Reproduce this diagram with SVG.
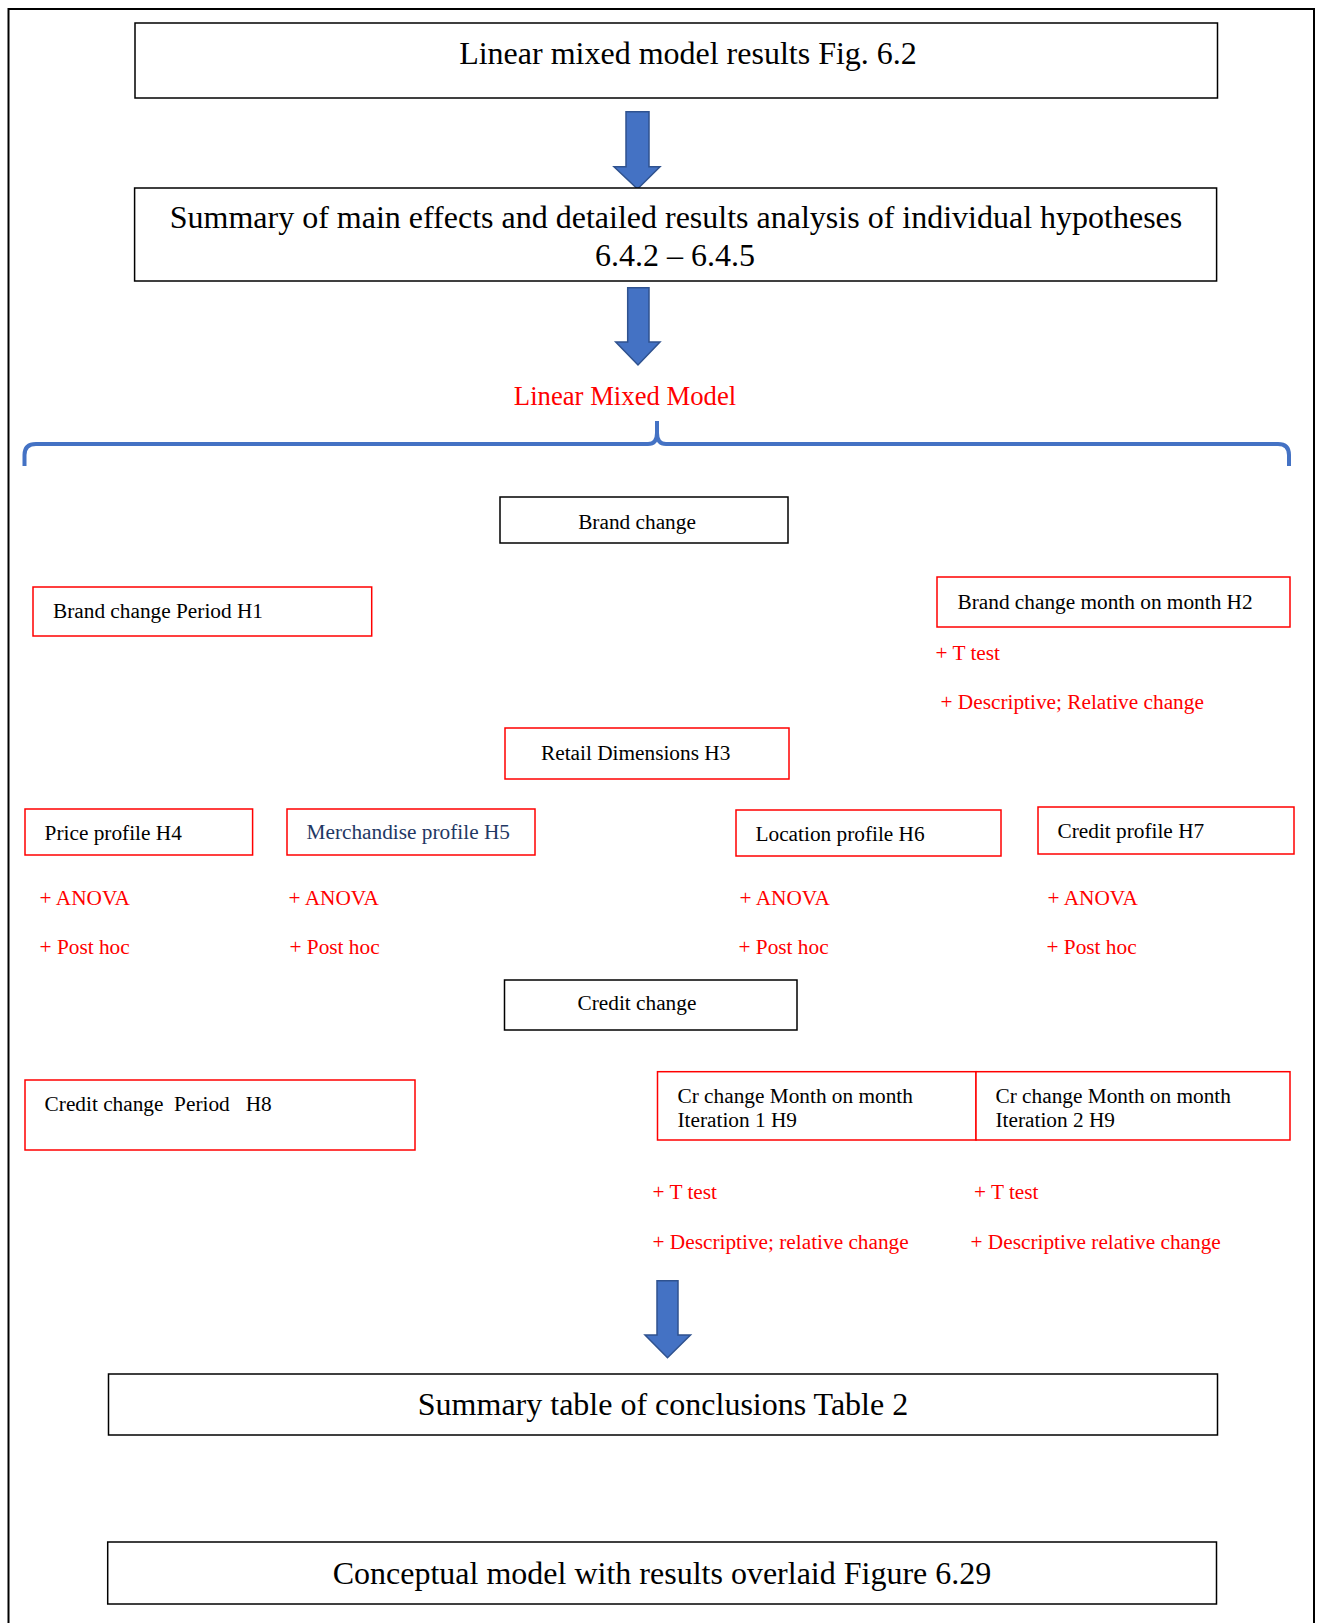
<svg xmlns="http://www.w3.org/2000/svg" width="1318" height="1623" viewBox="0 0 1318 1623">
<style>
text{font-family:"Liberation Serif","Times New Roman",serif;white-space:pre}
.big{font-size:32px;fill:#000}
.sm{font-size:21.3px;fill:#000}
.red{font-size:21.3px;fill:#FF0000}
.lbl{font-size:26.7px;fill:#FF0000}
.bb{fill:#fff;stroke:#000;stroke-width:1.5}
.rb{fill:#fff;stroke:#FF0000;stroke-width:1.5}
.arr{fill:#4472C4;stroke:#2F528F;stroke-width:1.5}
</style>
<rect x="0" y="0" width="1318" height="1623" fill="#fff"/>
<rect x="8.5" y="9" width="1305.5" height="1630" fill="none" stroke="#000" stroke-width="2"/>
<g id="connectors">
<polygon class="arr" points="626,111.7 649,111.7 649,166.7 660,166.7 637.5,189 614,166.7 626,166.7"/>
<polygon class="arr" points="627.7,287.7 649,287.7 649,342 660,342 638,365 615.7,342 627.7,342"/>
<polygon class="arr" points="657,1280.7 678,1280.7 678,1335 690.5,1335 667.5,1357.7 645,1335 657,1335"/>
<path d="M24.5,466 L24.5,455 Q24.5,444 36,444 L648,444 Q657,444 657,433 L657,421 L657,433 Q657,444 666,444 L1278,444 Q1289,444 1289,455 L1289,466" fill="none" stroke="#4472C4" stroke-width="4"/>
</g>
<g id="n1"><rect class="bb" x="135" y="23" width="1082.5" height="75"/><text class="big" x="688" y="64" text-anchor="middle">Linear mixed model results Fig. 6.2</text></g>
<g id="n2"><rect class="bb" x="134.6" y="188" width="1082" height="93"/><text class="big" x="676" y="228" text-anchor="middle">Summary of main effects and detailed results analysis of individual hypotheses</text><text class="big" x="675" y="265.5" text-anchor="middle">6.4.2 – 6.4.5</text></g>
<g id="lmm"><text class="lbl" x="625" y="405" text-anchor="middle">Linear Mixed Model</text></g>
<g id="brand"><rect class="bb" x="500" y="497" width="288" height="46"/><text class="sm" x="637" y="529" text-anchor="middle">Brand change</text></g>
<g id="h1"><rect class="rb" x="33" y="587" width="338.7" height="49"/><text class="sm" x="53" y="618">Brand change Period H1</text></g>
<g id="h2"><rect class="rb" x="937" y="577" width="353" height="50"/><text class="sm" x="957.5" y="609">Brand change month on month H2</text>
<text class="red" x="935.5" y="660">+ T test</text><text class="red" x="940.5" y="709">+ Descriptive; Relative change</text></g>
<g id="h3"><rect class="rb" x="505" y="728" width="284" height="51"/><text class="sm" x="541" y="760">Retail Dimensions H3</text></g>
<g id="h4"><rect class="rb" x="25" y="809" width="227.6" height="46"/><text class="sm" x="44.6" y="840">Price profile H4</text>
<text class="red" x="39.6" y="905">+ ANOVA</text><text class="red" x="39.6" y="954">+ Post hoc</text></g>
<g id="h5"><rect class="rb" x="287" y="809" width="248" height="46"/><text class="sm" x="306.5" y="839" style="fill:#1F3864">Merchandise profile H5</text>
<text class="red" x="288.5" y="905">+ ANOVA</text><text class="red" x="289.5" y="954">+ Post hoc</text></g>
<g id="h6"><rect class="rb" x="736" y="810" width="265" height="46"/><text class="sm" x="755.5" y="841">Location profile H6</text>
<text class="red" x="739.5" y="905">+ ANOVA</text><text class="red" x="738.5" y="954">+ Post hoc</text></g>
<g id="h7"><rect class="rb" x="1038" y="807" width="256" height="47"/><text class="sm" x="1057.5" y="838">Credit profile H7</text>
<text class="red" x="1047.5" y="905">+ ANOVA</text><text class="red" x="1046.5" y="954">+ Post hoc</text></g>
<g id="credit"><rect class="bb" x="504.5" y="980" width="292.5" height="50"/><text class="sm" x="577.5" y="1010">Credit change</text></g>
<g id="h8"><rect class="rb" x="25" y="1080" width="390" height="70"/><text class="sm" x="44.6" y="1111">Credit change  Period   H8</text></g>
<g id="h9a"><rect class="rb" x="657.5" y="1071.7" width="318.5" height="68.3"/><text class="sm" x="677.5" y="1103">Cr change Month on month</text><text class="sm" x="677.5" y="1127">Iteration 1 H9</text>
<text class="red" x="652.5" y="1199">+ T test</text><text class="red" x="652.5" y="1249">+ Descriptive; relative change</text></g>
<g id="h9b"><rect class="rb" x="976" y="1071.7" width="314" height="68.3"/><text class="sm" x="995.5" y="1103">Cr change Month on month</text><text class="sm" x="995.5" y="1127">Iteration 2 H9</text>
<text class="red" x="974" y="1199">+ T test</text><text class="red" x="970.5" y="1249">+ Descriptive relative change</text></g>
<g id="n3"><rect class="bb" x="108.5" y="1374" width="1109" height="61"/><text class="big" x="663" y="1415" text-anchor="middle">Summary table of conclusions Table 2</text></g>
<g id="n4"><rect class="bb" x="107.7" y="1542" width="1108.8" height="62"/><text class="big" x="662" y="1583.5" text-anchor="middle">Conceptual model with results overlaid Figure 6.29</text></g>
</svg>
